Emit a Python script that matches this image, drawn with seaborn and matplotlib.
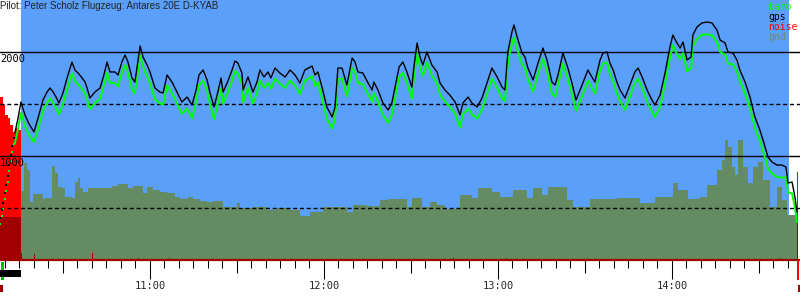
import matplotlib
matplotlib.use("Agg")
import matplotlib.pyplot as plt
import seaborn as sns
import numpy as np
from matplotlib.patches import Rectangle

# ---------------- data (time = minutes after 10:00, altitude in m) ----------------
title = "Pilot: Peter Scholz Flugzeug: Antares 20E D-KYAB"

t_flight = [13.4, 14.5, 15.5, 16.9, 18.3, 20.0, 21.4, 23.1, 24.5, 25.5, 26.6, 27.6, 28.6, 30.0, 31.4, 33.1, 34.1, 35.2, 36.6, 37.6,
            38.3, 39.3, 41.0, 42.8, 44.1, 45.2, 46.2, 47.9, 49.0, 50.3, 51.4, 52.4, 53.8, 54.8, 55.9, 56.6, 57.6, 59.0, 60.0, 61.7,
            63.4, 64.5, 65.9, 67.6, 69.3, 71.0, 72.8, 74.5, 75.9, 76.9,
            78.3, 79.7, 80.7, 82.1, 83.4, 84.5, 85.2, 86.6, 88.3, 89.3, 90.3, 91.7, 92.1, 93.8, 95.5, 96.9, 97.9, 99.3, 100.7, 101.7,
            103.1, 104.8, 106.6, 108.3, 110.0, 111.7, 113.4, 115.9, 116.9, 117.9, 119.3, 121.0, 122.8, 123.8, 124.8, 126.2, 127.9,
            129.7, 130.7, 131.7, 133.4, 135.2, 136.6, 137.2, 138.6, 140.3, 142.1, 143.4, 144.5, 145.9,
            147.2, 148.6, 150.3, 151.0, 152.1, 153.1, 154.1, 155.5, 157.2, 159.0, 160.0, 161.7, 163.4, 165.2, 166.9, 167.9, 169.7,
            171.0, 172.8, 174.5, 176.2, 177.9, 179.7, 181.4, 182.4, 183.4, 184.8, 185.5, 186.6, 188.3, 189.3, 190.3, 192.1, 193.8,
            195.5, 196.9, 198.6, 199.7, 200.7, 202.4, 204.1, 205.5, 206.9, 209.0, 211.0, 212.4, 213.4,
            215.2, 216.2, 217.6, 218.6, 219.7, 221.0, 222.1, 223.8, 225.5, 227.2, 228.3, 229.7, 231.4, 233.1, 234.1, 235.9, 237.6,
            239.3, 240.3, 241.7, 242.8, 243.8, 245.2, 246.6, 247.2, 248.6, 250.3, 252.1, 253.8, 255.5, 256.6, 258.3, 259.3, 261.0,
            262.4, 263.4, 265.2, 266.9, 268.6, 270.3, 271.7, 273.1, 274.5, 276.2, 277.9, 279.3, 280.0, 281.4, 282.4, 283.1]

gps_alt = [1221, 1365, 1519, 1394, 1308, 1231, 1365, 1538, 1615, 1654, 1615, 1567, 1510, 1606, 1750, 1904, 1827, 1798, 1750, 1711,
           1654, 1558, 1615, 1654, 1779, 1904, 1808, 1808, 1779, 1904, 1971, 1904, 1750, 1711, 1923, 2058, 1952, 1875, 1808, 1654,
           1615, 1606, 1779, 1711, 1615, 1519, 1567, 1490, 1635, 1779,
           1827, 1731, 1606, 1471, 1615, 1750, 1615, 1702, 1827, 1913, 1894, 1798, 1635, 1760, 1615, 1711, 1827, 1760, 1808, 1750,
           1846, 1798, 1760, 1827, 1779, 1702, 1827, 1865, 1779, 1808, 1663, 1471, 1375, 1471, 1846, 1846, 1683, 1942, 1904, 1808,
           1798, 1702, 1635, 1711, 1635, 1510, 1442, 1510, 1663, 1856,
           1904, 1808, 1663, 1856, 2087, 1952, 1875, 2000, 1875, 1808, 1702, 1635, 1586, 1519, 1394, 1510, 1567, 1510, 1471, 1558,
           1702, 1846, 1760, 1663, 1635, 2000, 2192, 2260, 2144, 1990, 1952, 1846, 1731, 1894, 2038, 1923, 1711, 1683, 1779, 1990,
           1846, 1702, 1538, 1683, 1827, 1760, 1711,
           1923, 1990, 2000, 1894, 1827, 1711, 1635, 1558, 1683, 1808, 1846, 1760, 1635, 1538, 1490, 1586, 1798, 2048, 2163, 2087,
           2038, 2096, 1923, 1952, 2163, 2240, 2279, 2288, 2279, 2211, 2115, 2087, 2000, 1990, 1923, 1827, 1711, 1567, 1375, 1250,
           1125, 990, 942, 913, 913, 894, 740, 750, 606, 462]

baro_alt = [1120, 1260, 1415, 1290, 1200, 1135, 1255, 1435, 1510, 1555, 1510, 1460, 1400, 1500, 1640, 1795, 1720, 1690, 1640, 1605,
            1545, 1450, 1510, 1550, 1680, 1800, 1705, 1700, 1670, 1800, 1875, 1800, 1640, 1600, 1825, 1965, 1855, 1770, 1700, 1545,
            1505, 1495, 1680, 1600, 1505, 1405, 1455, 1365, 1525, 1680,
            1725, 1625, 1495, 1355, 1505, 1645, 1505, 1595, 1725, 1815, 1795, 1690, 1520, 1655, 1505, 1605, 1725, 1655, 1705, 1645,
            1745, 1695, 1655, 1725, 1675, 1595, 1725, 1765, 1675, 1705, 1555, 1360, 1265, 1360, 1740, 1745, 1575, 1845, 1805, 1700,
            1690, 1595, 1520, 1605, 1520, 1395, 1320, 1395, 1555, 1755,
            1800, 1700, 1550, 1755, 1990, 1850, 1770, 1900, 1770, 1700, 1590, 1525, 1475, 1405, 1275, 1400, 1455, 1400, 1360, 1450,
            1595, 1745, 1655, 1555, 1525, 1895, 2080, 2140, 2030, 1880, 1845, 1740, 1620, 1790, 1935, 1815, 1600, 1570, 1675, 1890,
            1740, 1595, 1435, 1575, 1725, 1650, 1600,
            1820, 1890, 1900, 1790, 1720, 1600, 1525, 1445, 1575, 1705, 1745, 1655, 1525, 1425, 1375, 1475, 1695, 1950, 2065, 1980,
            1930, 1990, 1815, 1845, 2055, 2125, 2165, 2170, 2160, 2095, 2000, 1975, 1890, 1880, 1815, 1720, 1605, 1460, 1270, 1145,
            1020, 880, 830, 800, 790, 800, 650, 640, 505, 365]

# aerotow (sparse fixes)
tow_t = [8.45, 8.97, 9.48, 10.0, 10.52, 11.03, 11.55, 12.07, 12.59, 13.1]
tow_gps = [404, 481, 548, 644, 721, 808, 913, 1010, 1096, 1173]
tow_baro = [346, 423, 490, 587, 663, 750, 856, 952, 1038, 1115]

gnd_t = [15.5, 16.6, 17.6, 18.6, 19.7, 23.1, 23.8, 26.2, 27.2, 28.3, 29.7, 30.7, 33.1, 34.1, 35.2, 35.9, 36.9, 38.6, 46.9, 49.0,
         52.4, 54.1, 57.6, 59.0, 61.0, 63.4, 65.9, 68.6, 70.3, 73.1, 74.8, 77.2, 79.7, 81.7, 85.2, 90.0, 91.0, 95.5, 100.3, 103.8,
         108.3, 111.7, 115.2, 119.7, 127.9, 130.0, 134.8, 139.3, 142.1, 146.2, 148.6, 150.3, 153.8, 156.6, 159.0, 161.7, 166.9,
         171.0, 173.1, 177.9, 180.7, 185.2, 190.0, 192.1, 195.2, 197.2, 203.8, 205.9, 211.7, 221.0, 229.0, 234.1, 240.3, 242.1,
         245.5, 249.7, 252.1, 255.5, 257.2, 258.3, 259.3, 260.7, 261.7, 262.8, 264.5, 266.2, 267.9, 269.7, 271.4, 273.8, 276.2,
         277.9, 279.7, 283.1]
gnd_alt = [663, 933, 865, 558, 635, 587, 596, 904, 836, 702, 692, 606, 596, 750, 788, 692, 654, 692, 712, 731,
           692, 712, 644, 702, 673, 654, 644, 606, 587, 606, 587, 567, 558, 567, 510, 548, 500, 510, 481, 500,
           481, 423, 462, 510, 462, 529, 519, 577, 587, 587, 510, 596, 510, 558, 529, 490, 625,
           596, 692, 654, 606, 673, 596, 692, 625, 702, 577, 510, 587, 596, 548, 606, 740, 673,
           587, 606, 721, 865, 962, 1154, 1087, 894, 817, 1154, 894, 740, 894, 942, 769, 510, 702,
           577, 433, 433]

noise_t = [8.3, 8.6, 9.0, 9.3, 9.7, 10.0, 10.4, 10.7, 11.0, 11.4, 11.7, 12.1, 12.4, 12.8, 13.1, 13.5, 13.8, 14.1, 14.5, 14.8, 15.2,
           15.6, 20.0, 40.0, 55.9, 66.6, 98.3, 164.5, 182.8, 277.2, 283.1]
noise_val = [1567, 1567, 1567, 1490, 1490, 1394, 1394, 1394, 1365, 1365, 1298, 1298, 1298, 1231, 1231, 1231, 1269, 1269, 1269, 1250, 1250,
             67, 58, 67, 20, 20, 10, 20, 20, 20, 842]
noise_level_engine = 413

hour_ticks = [60, 120, 180, 240]
hour_labels = ["11:00", "12:00", "13:00", "14:00"]
half_ticks = [30, 90, 150, 210, 270]
minor_ticks = list(range(10, 285, 5))
grid_solid = [1000, 2000]
grid_dashed = [500, 1500]
legend_items = [("baro", "#00ff00"), ("gps", "black"), ("noise", "#ff0000"), ("gnd", "#6f8a68")]

# ---------------- styling ----------------
BLUE = "#5aa0fa"
GND = "#658b63"
DARKRED = "#a00000"
MONO = "DejaVu Sans Mono"

sns.set_style("white")
plt.rcParams["lines.scale_dashes"] = False
plt.rcParams["font.family"] = ["DejaVu Sans"]

fig = plt.figure(figsize=(8, 3), dpi=100)
ax = fig.add_axes([0, 40 / 300, 1, 260 / 300])
ax.set_facecolor("white")
ax.set_xlim(8.28, 284.14)
ax.set_ylim(0, 2500)

# flight background
ax.axvspan(15.5, 280.3, color=BLUE, lw=0, zorder=0)

# ground
ax.fill_between(gnd_t, gnd_alt, 0, step="post", color=GND, lw=0, zorder=1)

# noise bars
ax.bar(noise_t, noise_val, width=0.36, align="edge", color="#ff0000", lw=0, zorder=2)
ax.bar(noise_t, np.minimum(noise_val, noise_level_engine), width=0.36, align="edge", color=DARKRED, lw=0, zorder=2.1)

# reference lines
for v in grid_solid:
    ax.axhline(v, color="black", lw=1.0, zorder=3)
for v in grid_dashed:
    ax.axhline(v, color="black", lw=1.0, dashes=(2.9, 2.0), zorder=3)

# baseline
ax.axhline(0, color=DARKRED, lw=1.6, zorder=6, clip_on=False)

# barogram lines
sns.lineplot(x=t_flight, y=baro_alt, ax=ax, color="#00ff00", lw=1.4, estimator=None, sort=False, zorder=4)
sns.lineplot(x=t_flight, y=gps_alt, ax=ax, color="black", lw=1.0, estimator=None, sort=False, zorder=5)
sns.scatterplot(x=tow_t, y=tow_baro, ax=ax, color="#00ff00", marker="s", s=2, lw=0, zorder=4)
sns.scatterplot(x=tow_t, y=tow_gps, ax=ax, color="black", marker="s", s=2, lw=0, zorder=5)

# markers below the axis
for (x0, x1, y0, y1, c) in [(8.6, 9.6, -19, -192, "#00c000"), (8.28, 15.5, -96, -163, "black"),
                            (8.28, 9.3, -240, -308, DARKRED), (283.1, 283.8, 0, -192, "#ff0000"),
                            (283.5, 284.14, -240, -308, DARKRED)]:
    ax.add_patch(Rectangle((x0, y1), x1 - x0, y0 - y1, color=c, lw=0, clip_on=False, zorder=6))

# altitude labels
for v, s in [(2000, "2000"), (1000, "1000")]:
    ax.annotate(s, xy=(0, v), xycoords=("axes fraction", "data"), xytext=(0, -1.5),
                textcoords="offset points", ha="left", va="top", family=MONO, fontsize=7.5, color="black", zorder=7)

# legend
for i, (name, col) in enumerate(legend_items):
    ax.text(768 / 800, 1 - (2 + 10 * i) / 260, name, transform=ax.transAxes, ha="left", va="top",
            family=MONO, fontsize=7.0, color=col, zorder=7)

# title
fig.text(0, 1 - 1 / 300, title, ha="left", va="top", family="Liberation Sans", fontsize=7, color="#222222")

# x ticks
ax.set_xticks(hour_ticks)
ax.set_xticklabels(hour_labels, family=MONO, fontsize=7.5)
ax.set_xticks(minor_ticks, minor=True)
ax.tick_params(axis="x", which="major", length=13.7, width=0.75, pad=1.2, color="black", direction="out", bottom=True)
ax.tick_params(axis="x", which="minor", length=5.6, width=0.75, color="black", direction="out", bottom=True)
sec = ax.secondary_xaxis("bottom")
sec.set_xticks(half_ticks)
sec.set_xticklabels([])
sec.tick_params(axis="x", length=9.4, width=0.75, color="black", direction="out")
for sp in sec.spines.values():
    sp.set_visible(False)
ax.set_yticks([])
for sp in ax.spines.values():
    sp.set_visible(False)
ax.set_xlabel("")
ax.set_ylabel("")

fig.savefig("out.png", dpi=100)
